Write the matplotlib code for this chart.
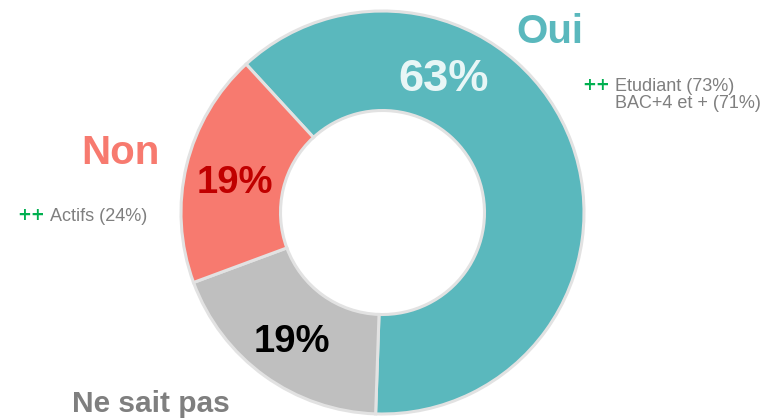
import matplotlib.pyplot as plt

# survey answers
categories = ['Oui', 'Ne sait pas', 'Non']
values = [63, 19, 19]
colors = ['#5ab8bd', '#bfbfbf', '#f77a6f']
pct_colors = ['#e8f6f6', '#000000', '#c00000']
title_colors = ['#5ab8bd', '#7f7f7f', '#f77a6f']

# over-represented groups per answer
notes_oui = ['Etudiant (73%)', 'BAC+4 et + (71%)']
notes_non = ['Actifs (24%)']

W, H = 769, 419
fig = plt.figure(figsize=(W / 100, H / 100), dpi=100)
ax = fig.add_axes([0, 0, 1, 1])

cx, cy = 382.5, H - 212.5
r_out, r_in = 201.5, 102

wedges, _ = ax.pie(values, colors=colors, startangle=132.6, counterclock=False,
                   center=(cx, cy), radius=r_out,
                   wedgeprops=dict(width=r_out - r_in, edgecolor='#e2e2e2', linewidth=2.2))

ax.set_xlim(0, W)
ax.set_ylim(0, H)
ax.set_aspect('equal')
ax.axis('off')

font = 'Liberation Sans'

def put(x, y, s, **kw):
    # x centre, y baseline, in pixels from the top-left corner
    ax.text(x, H - y, s, family=font, ha='center', va='baseline', **kw)

# percentages inside the ring
pct_pos = [(444, 91), (292, 352), (235, 193)]
pct_size = [32.5, 27.5, 27.5]
for v, (x, y), c, fs in zip(values, pct_pos, pct_colors, pct_size):
    put(x, y, f'{v}%', color=c, fontsize=fs, fontweight='bold')

# category titles
title_pos = [(550, 42.5), (151, 412.5), (120, 164)]
title_size = [29, 21.5, 29]
for lab, (x, y), c, fs in zip(categories, title_pos, title_colors, title_size):
    put(x, y, lab, color=c, fontsize=fs, fontweight='bold')

# notes
green = '#00b050'
grey = '#7f7f7f'

def note(x, y, lines):
    ax.text(x - 33, H - y + 1, '++', family='DejaVu Sans', color=green, fontsize=12,
            fontweight='bold', va='baseline')
    for i, s in enumerate(lines):
        ax.text(x, H - y - i * 16.5, s, family=font, color=grey, fontsize=13, va='baseline')

note(615, 91, notes_oui)
note(50, 221, notes_non)

fig.savefig('out.png', dpi=100)
